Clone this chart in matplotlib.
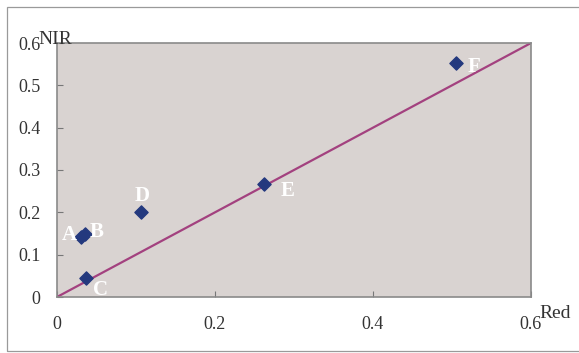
import matplotlib.pyplot as plt
from matplotlib.patches import Rectangle

plt.rcParams['font.family'] = ['Liberation Serif', 'DejaVu Serif']

names = ['A', 'B', 'C', 'D', 'E', 'F']
red = [0.030, 0.036, 0.037, 0.106, 0.262, 0.505]
nir = [0.142, 0.148, 0.045, 0.200, 0.267, 0.553]
line_x = [0, 0.6]
line_y = [0, 0.6]
ticks_x = [0, 0.2, 0.4, 0.6]
ticks_y = [0, 0.1, 0.2, 0.3, 0.4, 0.5, 0.6]

# label offsets in points
offsets = {'A': (-8, 1), 'B': (8, 2), 'C': (10, -9), 'D': (1, 12),
           'E': (17, -5), 'F': (13, -3)}

fig = plt.figure(figsize=(5.79, 3.53), dpi=100)
fig.patches.append(Rectangle((7/579, 2/353), 1, 344/353, transform=fig.transFigure,
                             fill=False, ec='#9a9a9a', lw=0.9))
ax = fig.add_axes([57/579, 56/353, 474/579, 254/353])
ax.set_facecolor('#d9d3d1')

ax.plot(line_x, line_y, color='#a3417f', lw=1.6, zorder=2)
ax.scatter(red, nir, marker='D', s=45, color='#24397e', zorder=3)
for n, x, y in zip(names, red, nir):
    dx, dy = offsets[n]
    ax.annotate(n, (x, y), xytext=(dx, dy), textcoords='offset points',
                color='white', fontsize=15, fontweight='bold',
                ha='center', va='center', zorder=4)

ax.set_xlim(0, 0.6)
ax.set_ylim(0, 0.6)
ax.set_xticks(ticks_x)
ax.set_xticklabels(['0', '0.2', '0.4', '0.6'])
ax.set_yticks(ticks_y)
ax.set_yticklabels(['0', '0.1', '0.2', '0.3', '0.4', '0.5', '0.6'])
ax.tick_params(direction='in', length=4, color='#777777', labelsize=13,
               labelcolor='#333333')
ax.tick_params(axis='x', pad=14)
ax.tick_params(axis='y', pad=12)
for s in ax.spines.values():
    s.set_color('#8a8a8a')
    s.set_linewidth(1.2)

fig.text(38/579, 1 - 40/353, 'NIR', fontsize=14, color='#333333', va='center')
fig.text(539/579, 1 - 313/353, 'Red', fontsize=14, color='#333333', va='center')

fig.savefig('out.png', dpi=100)
